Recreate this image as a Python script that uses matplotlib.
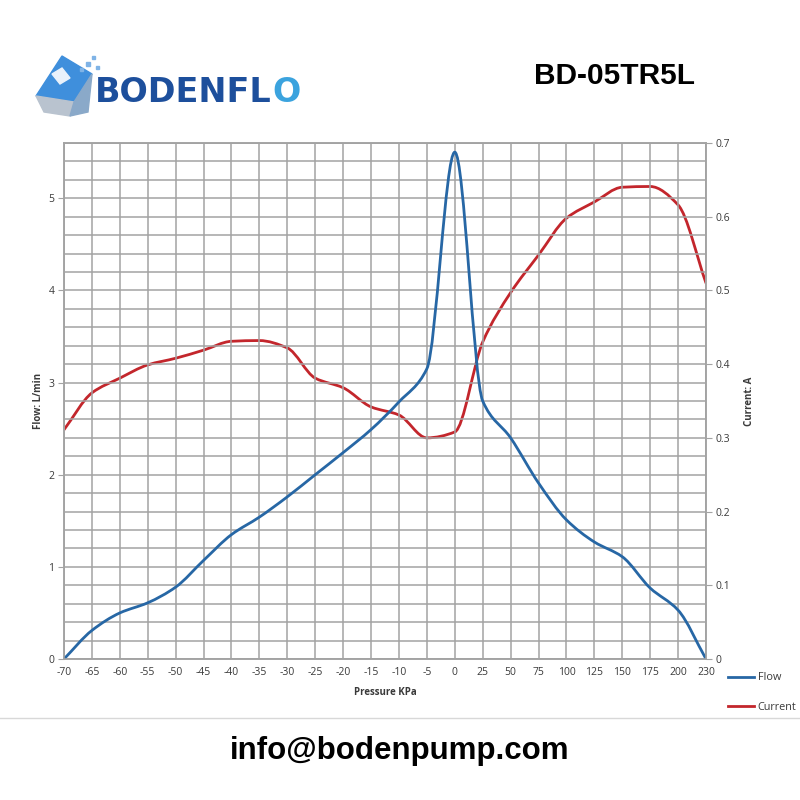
import numpy as np
import matplotlib.pyplot as plt
from matplotlib.path import Path
from matplotlib.patches import PathPatch, Polygon, Rectangle
from matplotlib.lines import Line2D

# data
pressure = ['-70', '-65', '-60', '-55', '-50', '-45', '-40', '-35', '-30', '-25',
            '-20', '-15', '-10', '-5', '0', '25', '50', '75', '100', '125',
            '150', '175', '200', '230']
flow = [0.0, 0.31, 0.50, 0.61, 0.78, 1.07, 1.35, 1.54, 1.76, 2.00,
        2.24, 2.49, 2.79, 3.15, 5.50, 2.80, 2.40, 1.91, 1.51, 1.27,
        1.11, 0.77, 0.53, 0.0]
current = [0.311, 0.361, 0.381, 0.399, 0.408, 0.419, 0.431, 0.432, 0.422, 0.381,
           0.368, 0.342, 0.331, 0.300, 0.308, 0.430, 0.497, 0.548, 0.598, 0.620,
           0.640, 0.641, 0.616, 0.510]

flow_color = '#2767a5'
current_color = '#c3262c'
grid_color = '#a3a3a3'
text_color = '#3a3a3a'


def smooth_path(xs, ys):
    # smoothed line like excel's, with shape-preserving (monotone) tangents
    xs = np.asarray(xs, float)
    ys = np.asarray(ys, float)
    n = len(xs)
    d = np.diff(ys) / np.diff(xs)
    m = np.zeros(n)
    m[0], m[-1] = d[0], d[-1]
    for i in range(1, n - 1):
        if d[i - 1] * d[i] > 0:
            m[i] = 2 * d[i - 1] * d[i] / (d[i - 1] + d[i])
    verts = [(xs[0], ys[0])]
    codes = [Path.MOVETO]
    for i in range(n - 1):
        h = xs[i + 1] - xs[i]
        verts += [(xs[i] + h / 3, ys[i] + m[i] * h / 3),
                  (xs[i + 1] - h / 3, ys[i + 1] - m[i + 1] * h / 3),
                  (xs[i + 1], ys[i + 1])]
        codes += [Path.CURVE4] * 3
    return Path(verts, codes)


plt.rcParams['font.family'] = ['Open Sans', 'DejaVu Sans']

fig = plt.figure(figsize=(8, 8), dpi=100)
ax = fig.add_axes([0.08, 0.17625, 0.8025, 0.645])
ax2 = ax.twinx()

x = np.arange(len(pressure))

ax.set_xlim(0, len(pressure) - 1)
ax.set_ylim(0, 5.6)
ax2.set_ylim(0, 0.7)

# grid
ax.set_xticks(x)
ax.set_xticklabels(pressure)
ax.set_yticks(range(0, 6))
ax.set_yticks(np.arange(0, 5.61, 0.2), minor=True)
ax.grid(True, which='both', color=grid_color, lw=1.1)
ax.set_axisbelow(True)
ax.tick_params(axis='x', length=0, labelsize=7.5, colors=text_color, pad=6)
ax.tick_params(axis='y', which='major', length=4, color=grid_color,
               labelsize=7.5, colors=text_color, pad=3)
ax.tick_params(axis='y', which='minor', length=0)
ax2.set_yticks(np.arange(0, 0.71, 0.1))
ax2.set_yticklabels(['0', '0.1', '0.2', '0.3', '0.4', '0.5', '0.6', '0.7'])
ax2.tick_params(axis='y', length=4, color=grid_color, labelsize=7.5,
                colors=text_color, pad=3)
for a in (ax, ax2):
    for s in a.spines.values():
        s.set_color(grid_color)
        s.set_linewidth(1.1)

ax2.add_patch(PathPatch(smooth_path(x, current), fill=False,
                        edgecolor=current_color, lw=2.0, capstyle='round'))
ax.add_patch(PathPatch(smooth_path(x, flow), fill=False,
                       edgecolor=flow_color, lw=2.0, capstyle='round'))
ax2.set_zorder(ax.get_zorder() - 1)
ax.patch.set_visible(False)
ax2.patch.set_visible(True)

ax.set_ylabel('Flow: L/min', fontsize=7, fontweight='bold', color=text_color,
              labelpad=3)
ax2.set_ylabel('Current: A', fontsize=7, fontweight='bold', color=text_color,
               labelpad=10)
ax.set_xlabel('Pressure KPa', fontsize=7, fontweight='bold', color=text_color,
              labelpad=6)

# legend
handles = [Line2D([], [], color=flow_color, lw=2.0),
           Line2D([], [], color=current_color, lw=2.0)]
fig.legend(handles, ['Flow', 'Current'], loc='upper left',
           bbox_to_anchor=(0.904, 1 - 668 / 800), frameon=False,
           fontsize=7.8, handlelength=2.45, labelspacing=1.7,
           handletextpad=0.35, labelcolor=text_color, borderaxespad=0)

# separator line
fig.add_artist(Line2D([0, 1], [1 - 718 / 800, 1 - 718 / 800],
                      color='#d8d8d8', lw=1.0))

# header / footer
fig.text(615 / 800, 1 - 76 / 800, 'BD-05TR5L', ha='center', va='center',
         fontsize=21.5, fontweight='bold', family='Liberation Sans')
fig.text(400 / 800, 1 - 751 / 800, 'info@bodenpump.com', ha='center',
         va='center', fontsize=22.5, fontweight='bold', family='Liberation Sans')

# logo
logo = fig.add_axes([0, 0.85, 0.4, 0.13])
logo.set_xlim(0, 320)
logo.set_ylim(104, 0)
logo.axis('off')
logo.add_patch(Polygon([[36, 80], [62, 40], [92, 58], [74, 86]],
                       color='#3f8fdc'))
logo.add_patch(Polygon([[36, 80], [74, 86], [70, 100], [44, 96]],
                       color='#b9c3cf'))
logo.add_patch(Polygon([[74, 86], [92, 58], [88, 96], [70, 100]],
                       color='#8aa9c9'))
logo.add_patch(Polygon([[52, 58], [62, 52], [70, 62], [60, 68]],
                       color='#eaf2fb'))
for (sx, sy, sz) in [(86, 46, 4), (92, 40, 3), (80, 52, 3), (96, 50, 2.5)]:
    logo.add_patch(Rectangle((sx, sy), sz, sz, color='#7fb3e6'))
word = logo.text(95, 76, 'BODENFL', ha='left', va='center', fontsize=24,
                 fontweight='bold', color='#1d4f9c', family='DejaVu Sans')
fig.canvas.draw()
bb = word.get_window_extent().transformed(logo.transData.inverted())
logo.text(bb.x1 + 1, 76, 'O', ha='left', va='center', fontsize=24,
          fontweight='bold', color='#3ba3de', family='DejaVu Sans')

fig.savefig('out.png', dpi=100, facecolor='white')
